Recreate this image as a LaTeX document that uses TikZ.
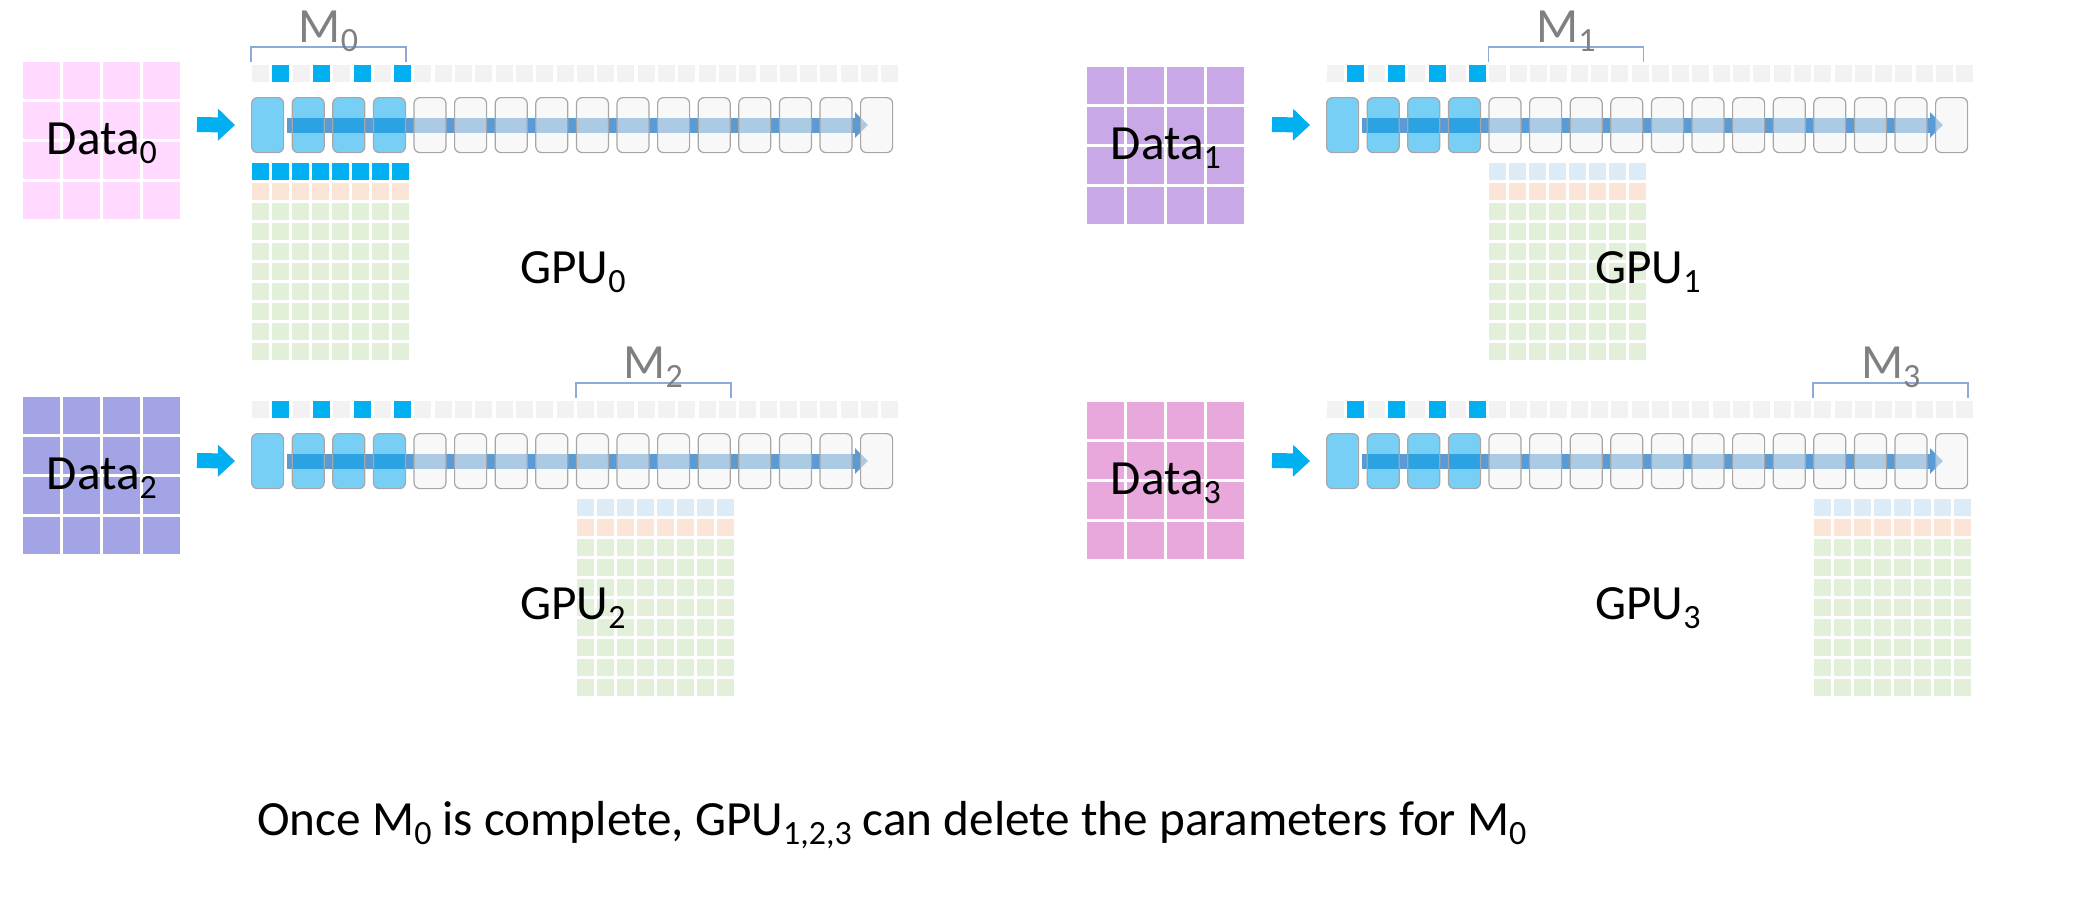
\documentclass[tikz,border=0pt]{standalone}
\usepackage{fontspec}
\setmainfont{Carlito}
\usepackage{tikz}
\usetikzlibrary{arrows.meta,positioning}

\definecolor{cellblue}{HTML}{00B0F0}
\definecolor{layerblue}{HTML}{08A8ED}
\definecolor{layergrey}{HTML}{F2F2F2}
\definecolor{layeredge}{HTML}{A6A6A6}
\definecolor{barblue}{HTML}{5B9BD5}
\definecolor{paleblue}{HTML}{DDEBF7}
\definecolor{paleorange}{HTML}{FBE5D6}
\definecolor{palegreen}{HTML}{E2F0D9}
\definecolor{bracegrey}{HTML}{8EA9DB}
\definecolor{mgrey}{HTML}{808080}
\definecolor{data0}{HTML}{FFD9FF}
\definecolor{data1}{HTML}{C8A8E6}
\definecolor{data2}{HTML}{A2A4E6}
\definecolor{data3}{HTML}{E8A8DC}

\newcommand{\lowidx}[1]{\raisebox{-4.5pt}{\fontsize{17pt}{17pt}\selectfont #1}}

\begin{document}
\begin{tikzpicture}[x=0.5pt,y=-0.5pt,
		layer node/.style={draw=layeredge,line width=0.6pt,rounded corners=3pt,fill opacity=0.55,
			minimum width=16pt,minimum height=27.5pt,inner sep=0pt,anchor=north west},
		data node/.style={minimum size=78.5pt,inner sep=0pt,anchor=north west},
		label node/.style={inner sep=0pt,font=\fontsize{24.6pt}{29pt}\selectfont},
		feed/.style={line width=7.5pt,cellblue,-{Triangle[width=15.5pt,length=8.5pt]}},
		bar/.style={line width=7.5pt,barblue,-{Triangle[width=12.5pt,length=6.5pt]}},
		brace/.style={bracegrey,line width=0.8pt}]
	\useasboundingbox (0,0) rectangle (2082,902);
	\foreach \p/\ox/\oy/\dx/\dy in {0/0/0/23/62,1/1075/0/12/67,2/0/336/23/61,3/1075/336/12/66}{
		\begin{scope}[shift={(\ox,\oy)}]
		\node[data node,fill=data\p] (d\p) at (\dx,\dy) {};
		\foreach \k in {1,2,3}{
			\draw[white,line width=1.5pt] ([xshift=\k*20pt-0.75pt]d\p.north west) -- ([xshift=\k*20pt-0.75pt]d\p.south west);
			\draw[white,line width=1.5pt] ([yshift=-\k*20pt+0.75pt]d\p.north west) -- ([yshift=-\k*20pt+0.75pt]d\p.north east);
		}
		\node[label node,anchor=base] at ([yshift=-6.75pt]d\p.center) {Data\lowidx{\p}};
		\foreach \k in {0,...,31}{
			\def\cc{layergrey}
			\ifnum\k<8 \ifodd\k \def\cc{cellblue}\fi\fi
			\fill[\cc] (252+20.3*\k,65) rectangle ++(17,17);
		}
		\coordinate (s\p) at (287,125);
		\coordinate (e\p) at (868,125);
		\draw[bar] (s\p) -- (e\p);
		\foreach \i in {0,...,15}{
			\def\cc{layergrey}
			\ifnum\i<4 \def\cc{layerblue}\fi
			\node[layer node,fill=\cc] (b\p-\i) at (251+40.6*\i,97) {};
		}
		\foreach \r in {0,...,9}{
			\foreach \j in {0,...,7}{
				\def\cc{palegreen}
				\ifnum\r=1 \def\cc{paleorange}\fi
				\ifnum\r=0 \ifnum\p=0 \def\cc{cellblue}\else\def\cc{paleblue}\fi\fi
				\fill[\cc] (252+162.4*\p+20*\j,163+20*\r) rectangle ++(17,17);
			}
		}
		\pgfmathtruncatemacro\a{4*\p}
		\pgfmathtruncatemacro\z{4*\p+3}
		\draw[brace] ([yshift=17.5pt]b\p-\a.north west) -- ([yshift=25pt]b\p-\a.north west)
			-- ([yshift=25pt]b\p-\z.north east) -- ([yshift=17.5pt]b\p-\z.north east);
		\path ([yshift=27.5pt]b\p-\a.north west) -- ([yshift=27.5pt]b\p-\z.north east)
			node[midway,label node,text=mgrey,anchor=base] (m\p) {M\lowidx{\p}};
		\coordinate (f\p) at (197,124.5);
		\draw[feed] (f\p) -- ([xshift=-8pt]b\p-0.west);
		\node[label node,anchor=base west] (g\p) at (520,283) {GPU\lowidx{\p}};
		\end{scope}
	}
	\node[label node,anchor=base west] (n) at (257,835) {Once M\lowidx{0} is complete, GPU\lowidx{1,2,3} can delete the parameters for M\lowidx{0}};
\end{tikzpicture}
\end{document}
